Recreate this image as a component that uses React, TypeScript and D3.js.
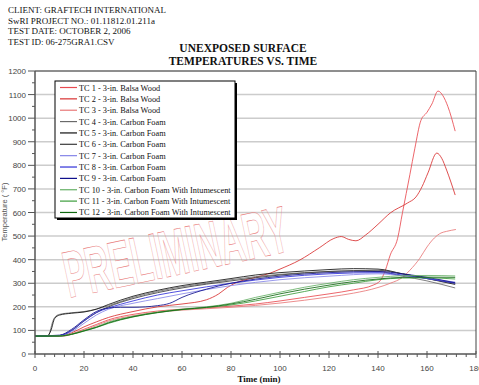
import { useEffect, useRef } from "react";
import * as d3 from "d3";

type Pt = [number, number];

const headerLines = [
  "CLIENT: GRAFTECH INTERNATIONAL",
  "SwRI PROJECT NO.: 01.11812.01.211a",
  "TEST DATE: OCTOBER 2, 2006",
  "TEST ID: 06-275GRA1.CSV",
];

const seriesNames = [
  "TC 1 - 3-in. Balsa Wood",
  "TC 2 - 3-in. Balsa Wood",
  "TC 3 - 3-in. Balsa Wood",
  "TC 4 - 3-in. Carbon Foam",
  "TC 5 - 3-in. Carbon Foam",
  "TC 6 - 3-in. Carbon Foam",
  "TC 7 - 3-in. Carbon Foam",
  "TC 8 - 3-in. Carbon Foam",
  "TC 9 - 3-in. Carbon Foam",
  "TC 10 -  3-in. Carbon Foam With Intumescent",
  "TC 11 -  3-in. Carbon Foam With Intumescent",
  "TC 12 -  3-in. Carbon Foam With Intumescent",
];

const seriesColors = [
  "#e84a50", "#d83030", "#e87878",
  "#6a6a6a", "#111111", "#3a3a3a",
  "#8585e8", "#3030d8", "#10108c",
  "#66b066", "#3c9c3c", "#106810",
];

// [time (min), temperature (°F)]
const tc1: Pt[] = [[0, 76], [12, 77], [15, 85], [20, 105], [25, 125], [30, 145], [40, 168], [50, 182], [60, 190], [70, 195], [80, 203], [90, 212], [100, 225], [110, 240], [120, 255], [130, 272], [138, 292], [141, 312], [143, 355], [145, 420], [148, 490], [150, 600], [153, 760], [155, 870], [157.5, 990], [160, 1025], [162, 1060], [164.5, 1115], [166.5, 1095], [168.5, 1050], [171.5, 945]];
const tc2: Pt[] = [[0, 76], [10, 77], [15, 90], [20, 115], [25, 136], [30, 155], [40, 180], [50, 200], [60, 212], [70, 230], [75, 255], [78.5, 282], [82, 302], [90, 325], [96, 343], [100, 360], [108, 398], [116, 450], [122, 490], [125, 498], [128, 486], [131, 480], [135, 505], [140, 550], [145, 598], [152, 640], [155.5, 666], [158, 710], [160.4, 768], [164, 852], [166, 830], [168, 780], [171.5, 674]];
const tc3: Pt[] = [[0, 76], [12, 77], [15, 84], [20, 100], [25, 120], [30, 140], [40, 162], [50, 177], [60, 186], [70, 192], [80, 198], [90, 206], [100, 216], [110, 228], [120, 242], [130, 258], [140, 282], [145, 300], [150, 325], [153, 355], [157, 405], [160, 454], [163, 492], [165.7, 513], [168, 520], [171.8, 528]];
const tc4: Pt[] = [[0, 76], [5, 76], [6, 90], [7, 130], [8, 155], [10, 168], [15, 175], [20, 180], [25, 190], [30, 205], [40, 240], [50, 265], [60, 285], [70, 300], [80, 315], [90, 328], [100, 338], [110, 345], [120, 350], [130, 352], [140, 350], [150, 330], [160, 310], [171.5, 280]];
const tc5: Pt[] = [[0, 76], [5, 76], [6.5, 100], [8, 150], [10, 165], [15, 173], [20, 178], [25, 190], [30, 210], [40, 245], [50, 270], [60, 290], [70, 305], [80, 320], [90, 335], [100, 345], [110, 352], [120, 358], [130, 362], [140, 360], [150, 340], [160, 320], [171.5, 295]];
const tc6: Pt[] = [[0, 76], [10, 78], [15, 100], [20, 140], [25, 175], [30, 200], [40, 235], [50, 260], [60, 280], [80, 310], [100, 335], [120, 350], [140, 355], [150, 340], [160, 320], [171.5, 300]];
const tc7: Pt[] = [[0, 76], [10, 78], [15, 95], [20, 130], [25, 165], [30, 190], [40, 215], [50, 235], [60, 255], [80, 290], [100, 315], [120, 330], [140, 340], [150, 332], [160, 320], [171.5, 305]];
const tc8: Pt[] = [[0, 76], [10, 78], [15, 100], [20, 140], [25, 175], [30, 195], [40, 225], [50, 250], [60, 268], [80, 300], [100, 325], [120, 340], [140, 345], [150, 335], [160, 320], [171.5, 300]];
const tc9: Pt[] = [[0, 76], [10, 80], [15, 105], [20, 145], [25, 180], [30, 195], [35, 198], [40, 198], [50, 205], [55, 215], [60, 240], [70, 275], [80, 300], [100, 330], [120, 345], [140, 350], [150, 340], [160, 325], [171.5, 302]];
const tc10: Pt[] = [[0, 76], [10, 77], [15, 85], [20, 100], [25, 115], [30, 135], [40, 160], [50, 178], [60, 190], [70, 200], [80, 215], [90, 240], [100, 262], [110, 283], [120, 300], [130, 315], [140, 325], [150, 332], [160, 333], [171.5, 331]];
const tc11: Pt[] = [[0, 76], [10, 76], [15, 83], [20, 97], [25, 112], [30, 130], [40, 157], [50, 175], [60, 188], [70, 197], [80, 208], [90, 225], [100, 245], [110, 265], [120, 285], [130, 300], [140, 315], [150, 322], [160, 323], [171.5, 318]];
const tc12: Pt[] = [[0, 76], [10, 76], [15, 84], [20, 98], [25, 113], [30, 132], [40, 158], [50, 176], [60, 189], [70, 198], [80, 212], [90, 232], [100, 255], [110, 275], [120, 292], [130, 307], [140, 318], [150, 325], [160, 326], [171.5, 325]];

const seriesData = [tc1, tc2, tc3, tc4, tc5, tc6, tc7, tc8, tc9, tc10, tc11, tc12];

const width = 479;
const height = 385;
const plot = { left: 35, right: 476, top: 71, bottom: 354 };

export default function App() {
  const ref = useRef<SVGSVGElement | null>(null);

  useEffect(() => {
    const svg = d3.select(ref.current);
    svg.selectAll("*").remove();

    const x = d3.scaleLinear().domain([0, 180]).range([plot.left, plot.right]);
    const y = d3.scaleLinear().domain([0, 1200]).range([plot.bottom, plot.top]);

    svg.append("rect").attr("width", width).attr("height", height).attr("fill", "#ffffff");

    // header
    svg
      .append("g")
      .selectAll("text")
      .data(headerLines)
      .join("text")
      .attr("x", 8)
      .attr("y", (_, i) => 13 + i * 10.5)
      .attr("font-family", "'Liberation Serif', serif")
      .attr("font-size", 9)
      .attr("fill", "#111")
      .text((d) => d);

    ["UNEXPOSED SURFACE", "TEMPERATURES VS. TIME"].forEach((t, i) => {
      svg
        .append("text")
        .attr("x", 243)
        .attr("y", 51.5 + i * 13)
        .attr("text-anchor", "middle")
        .attr("font-family", "'Liberation Serif', serif")
        .attr("font-weight", 700)
        .attr("font-size", 11.5)
        .attr("fill", "#111")
        .text(t);
    });

    // gridlines
    svg
      .append("g")
      .selectAll("line")
      .data(d3.range(100, 1201, 100))
      .join("line")
      .attr("x1", plot.left)
      .attr("x2", plot.right)
      .attr("y1", (d) => y(d))
      .attr("y2", (d) => y(d))
      .attr("stroke", "#cccccc")
      .attr("stroke-width", 1.5);

    // frame top/right
    svg
      .append("path")
      .attr("d", `M${plot.left},${plot.top}H${plot.right}V${plot.bottom}`)
      .attr("fill", "none")
      .attr("stroke", "#444")
      .attr("stroke-width", 1);

    // watermark
    svg
      .append("text")
      .attr("transform", "translate(69,298) rotate(-12)")
      .attr("font-family", "'Liberation Sans', Arial, sans-serif")
      .attr("font-weight", 700)
      .attr("font-size", 66)
      .attr("textLength", 228)
      .attr("lengthAdjust", "spacingAndGlyphs")
      .attr("fill", "none")
      .attr("stroke", "#ea8080")
      .attr("stroke-width", 0.6)
      .text("PRELIMINARY");

    // series
    const line = d3
      .line<Pt>()
      .x((d) => x(d[0]))
      .y((d) => y(d[1]))
      .curve(d3.curveMonotoneX);

    svg
      .append("g")
      .selectAll("path")
      .data(seriesData)
      .join("path")
      .attr("d", (d) => line(d))
      .attr("fill", "none")
      .attr("stroke", (_, i) => seriesColors[i])
      .attr("stroke-width", 0.85);

    // axes lines
    const axisColor = "#555";
    svg
      .append("line")
      .attr("x1", plot.left)
      .attr("x2", plot.left)
      .attr("y1", plot.top)
      .attr("y2", plot.bottom)
      .attr("stroke", axisColor)
      .attr("stroke-width", 1.5);
    svg
      .append("line")
      .attr("x1", plot.left)
      .attr("x2", plot.right)
      .attr("y1", plot.bottom)
      .attr("y2", plot.bottom)
      .attr("stroke", axisColor)
      .attr("stroke-width", 1.5);

    // y ticks
    const yMajor = d3.range(0, 1201, 100);
    const yMinor = d3.range(50, 1200, 100);
    svg
      .append("g")
      .selectAll("line")
      .data(yMajor)
      .join("line")
      .attr("x1", plot.left - 7)
      .attr("x2", plot.left)
      .attr("y1", (d) => y(d))
      .attr("y2", (d) => y(d))
      .attr("stroke", axisColor);
    svg
      .append("g")
      .selectAll("line")
      .data(yMinor)
      .join("line")
      .attr("x1", plot.left - 3)
      .attr("x2", plot.left)
      .attr("y1", (d) => y(d))
      .attr("y2", (d) => y(d))
      .attr("stroke", axisColor);
    svg
      .append("g")
      .selectAll("text")
      .data(yMajor)
      .join("text")
      .attr("x", plot.left - 9)
      .attr("y", (d) => y(d) + 3)
      .attr("text-anchor", "end")
      .attr("font-family", "'Liberation Sans', Arial, sans-serif")
      .attr("font-size", 8)
      .attr("fill", "#444")
      .text((d) => d);

    // x ticks
    const xMajor = d3.range(0, 181, 20);
    const xMinor = d3.range(0, 181, 4).filter((v) => v % 20 !== 0);
    svg
      .append("g")
      .selectAll("line")
      .data(xMajor)
      .join("line")
      .attr("x1", (d) => x(d))
      .attr("x2", (d) => x(d))
      .attr("y1", plot.bottom - 3)
      .attr("y2", plot.bottom + 4)
      .attr("stroke", axisColor);
    svg
      .append("g")
      .selectAll("line")
      .data(xMinor)
      .join("line")
      .attr("x1", (d) => x(d))
      .attr("x2", (d) => x(d))
      .attr("y1", plot.bottom)
      .attr("y2", plot.bottom + 3)
      .attr("stroke", axisColor);
    svg
      .append("g")
      .selectAll("text")
      .data(xMajor)
      .join("text")
      .attr("x", (d) => x(d))
      .attr("y", 371)
      .attr("text-anchor", "middle")
      .attr("font-family", "'Liberation Sans', Arial, sans-serif")
      .attr("font-size", 8)
      .attr("fill", "#444")
      .text((d) => d);

    svg
      .append("text")
      .attr("x", 259)
      .attr("y", 382)
      .attr("text-anchor", "middle")
      .attr("font-family", "'Liberation Serif', serif")
      .attr("font-weight", 700)
      .attr("font-size", 9)
      .attr("fill", "#111")
      .text("Time (min)");

    svg
      .append("text")
      .attr("transform", "translate(7,212) rotate(-90)")
      .attr("text-anchor", "middle")
      .attr("font-family", "'Liberation Sans', Arial, sans-serif")
      .attr("font-size", 7.5)
      .attr("fill", "#555")
      .text("Temperature ( °F)");

    // legend
    const legend = svg.append("g").attr("transform", "translate(55,81)");
    legend
      .append("rect")
      .attr("x", 2)
      .attr("y", 2)
      .attr("width", 180)
      .attr("height", 137)
      .attr("fill", "#000");
    legend
      .append("rect")
      .attr("width", 180)
      .attr("height", 137)
      .attr("fill", "#ffffff")
      .attr("stroke", "#000")
      .attr("stroke-width", 1);
    const items = legend
      .selectAll("g.item")
      .data(seriesNames)
      .join("g")
      .attr("class", "item")
      .attr("transform", (_, i) => `translate(0,${6.5 + i * 11.36})`);
    items
      .append("line")
      .attr("x1", 5)
      .attr("x2", 22)
      .attr("stroke", (_, i) => seriesColors[i])
      .attr("stroke-width", 1.2);
    items
      .append("text")
      .attr("x", 24)
      .attr("y", 3)
      .attr("font-family", "'Liberation Serif', serif")
      .attr("font-size", 8.3)
      .attr("fill", "#111")
      .text((d) => d);
  }, []);

  return (
    <svg
      ref={ref}
      width={width}
      height={height}
      style={{ position: "absolute", left: 0, top: 0 }}
    />
  );
}
